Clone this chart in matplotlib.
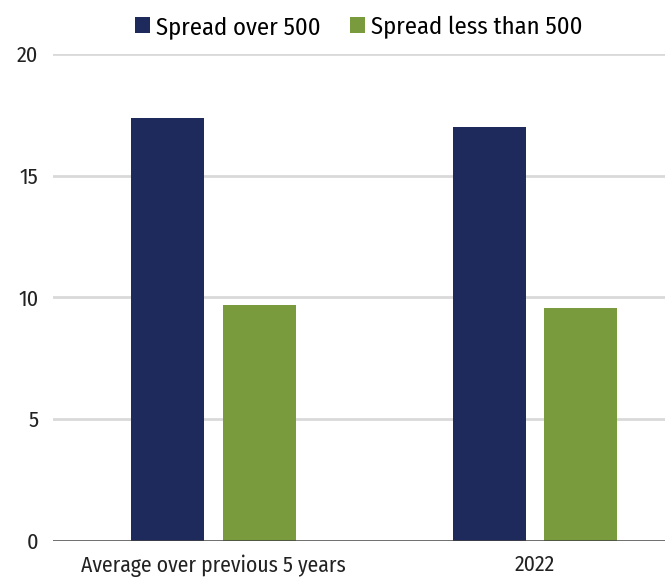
import numpy as np
import matplotlib.pyplot as plt

categories = ["Average over previous 5 years", "2022"]
over_500 = [17.38, 17.02]
under_500 = [9.69, 9.55]
series_names = ["Spread over 500", "Spread less than 500"]
yticks = [0, 5, 10, 15, 20]

navy = "#1f2a5c"
green = "#7a9a3e"

plt.rcParams["font.family"] = ["Fira Sans Condensed", "DejaVu Sans"]
plt.rcParams["font.size"] = 14

W, H = 665, 579
left, bottom, top = 53, 540.7, 54

fig = plt.figure(figsize=(W / 100, H / 100), dpi=100)
ax = fig.add_axes([left / W, 1 - bottom / H, 1 - left / W, (bottom - top) / H])

x = np.arange(len(categories))
w = 0.227
off = 0.1425
ax.bar(x - off, over_500, width=w, color=navy, label=series_names[0], zorder=3)
ax.bar(x + off, under_500, width=w, color=green, label=series_names[1], zorder=3)

ax.set_xlim(-0.5, 1.404)
ax.set_ylim(0, 20)
ax.set_yticks(yticks)
ax.set_xticks(x)
ax.set_xticklabels(categories)
ax.tick_params(axis="y", length=0, pad=10.5, labelsize=16, colors="#222222")
ax.tick_params(axis="x", length=0, pad=10, labelsize=15.6, colors="#222222")

for v in yticks[1:]:
    ax.axhline(v, color="#d9d9d9", lw=2, zorder=1)
ax.axhline(0, color="#444444", lw=1.8, zorder=4)

for s in ax.spines.values():
    s.set_visible(False)

ax.legend(loc="center", ncol=2, frameon=False, fontsize=17.7,
          handlelength=0.61, handleheight=0.61, handletextpad=0.26, columnspacing=1.18)
# centre the legend over the plot area, near the top edge of the figure
ax.get_legend().set_bbox_to_anchor(((left + W) / 2 / W, 1 - 27 / H), transform=fig.transFigure)

fig.savefig("out.png", dpi=100)
